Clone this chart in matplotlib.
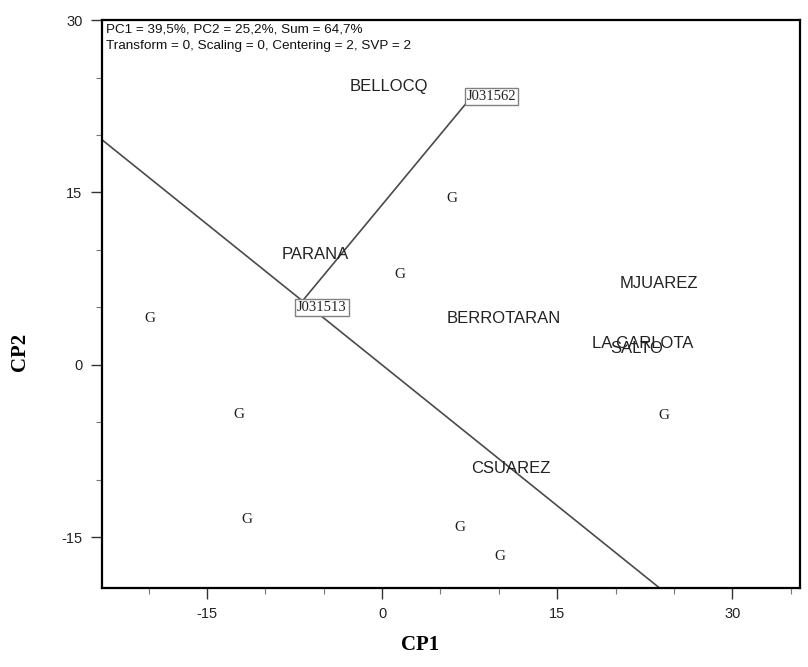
import numpy as np
import matplotlib
matplotlib.use("Agg")
import matplotlib.pyplot as plt
from matplotlib.ticker import MultipleLocator

plt.rcParams["axes.unicode_minus"] = False

# Genotype scores (unlabelled genotypes drawn as "G")
geno_x = [-19.9, -12.3, -11.6, 1.5, 6.0, 6.7, 10.1, 24.1]
geno_y = [4.0, -4.3, -13.4, 7.9, 14.5, -14.1, -16.7, -4.4]

# The two genotypes being compared
pair_names = ["J031513", "J031562"]
pair_x = [-6.8, 7.4]
pair_y = [5.6, 23.0]

# Environment scores
env_names = ["BELLOCQ", "PARANA", "BERROTARAN", "MJUAREZ", "LA CARLOTA", "SALTO", "CSUAREZ"]
env_x = [0.6, -5.7, 10.4, 23.7, 22.3, 21.8, 11.0]
env_y = [24.2, 9.6, 4.0, 7.1, 1.9, 1.4, -9.0]

header = ["PC1 = 39,5%, PC2 = 25,2%, Sum = 64,7%",
          "Transform = 0, Scaling = 0, Centering = 2, SVP = 2"]

xlim = (-24.0, 35.8)
ylim = (-19.4, 30.0)

fig = plt.figure(figsize=(8.08, 6.67), dpi=100)
ax = fig.add_axes([0.1262, 0.1184, 0.8639, 0.8516])
ax.set_xlim(*xlim)
ax.set_ylim(*ylim)

line_col = "#4a4a4a"
ax.plot(pair_x, pair_y, color=line_col, lw=1.2, zorder=2)

# Line through the origin perpendicular to the segment joining the two genotypes
dx = pair_x[1] - pair_x[0]
dy = pair_y[1] - pair_y[0]
t = np.linspace(-100, 100, 2)
ax.plot(-dy * t, dx * t, color=line_col, lw=1.2, zorder=2)

for x, y in zip(geno_x, geno_y):
    ax.text(x, y, "G", ha="center", va="center", fontsize=11,
            family="Liberation Serif", color="#1a1a1a", zorder=3)

# label offsets in points for the boxed genotype names
box_offsets = [(-4, -5), (-1, 3)]
for name, x, y, off in zip(pair_names, pair_x, pair_y, box_offsets):
    ax.annotate(name, (x, y), xytext=off, textcoords="offset points",
                ha="left", va="center", fontsize=10.5,
                family="Liberation Serif", color="#222222", zorder=4,
                bbox=dict(boxstyle="square,pad=0.12", fc="white", ec="#808080", lw=1.0))

for name, x, y in zip(env_names, env_x, env_y):
    ax.text(x, y, name, ha="center", va="center", fontsize=12,
            family="Liberation Sans", color="#222222", zorder=3)

ax.text(0.006, 0.994, header[0], transform=ax.transAxes, ha="left", va="top",
        fontsize=9.7, family="Liberation Sans", color="#111111")
ax.text(0.006, 0.965, header[1], transform=ax.transAxes, ha="left", va="top",
        fontsize=9.7, family="Liberation Sans", color="#111111")

ax.xaxis.set_major_locator(MultipleLocator(15))
ax.xaxis.set_minor_locator(MultipleLocator(5))
ax.yaxis.set_major_locator(MultipleLocator(15))
ax.yaxis.set_minor_locator(MultipleLocator(5))
ax.tick_params(which="major", direction="out", length=8, width=1.0, color="#333333",
               labelsize=10.5, pad=6)
ax.tick_params(which="minor", direction="out", length=4, width=0.8, color="#777777")
for lab in ax.get_xticklabels() + ax.get_yticklabels():
    lab.set_family("Liberation Sans")
    lab.set_color("#222222")

for s in ax.spines.values():
    s.set_linewidth(1.6)
    s.set_color("black")

ax.set_xlabel("CP1", family="Liberation Serif", fontweight="bold", fontsize=15)
ax.set_ylabel("CP2", family="Liberation Serif", fontweight="bold", fontsize=15)
ax.xaxis.set_label_coords(0.455, -0.082)
ax.yaxis.set_label_coords(-0.103, 0.415)

fig.savefig("out.png", dpi=100)
